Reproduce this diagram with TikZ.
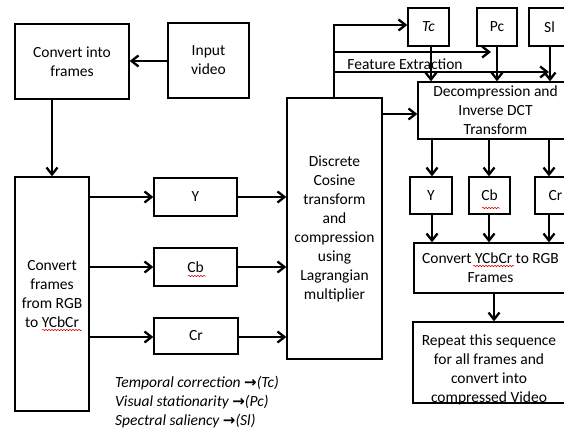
\documentclass[tikz,border=0pt]{standalone}
\usepackage{fontspec}
\setmainfont{Carlito}
\newfontfamily\symfont{DejaVu Sans}
\usetikzlibrary{arrows.meta,decorations.pathmorphing}
\newcommand{\legarrow}{{\upshape\symfont\bfseries\fontsize{15}{19}\selectfont →}}
\begin{document}
\begin{tikzpicture}[x=1pt,y=-1pt,
  box/.style={draw, line width=1.3pt, align=center, inner sep=0pt, font=\fontsize{15.5}{19}\selectfont},
  arr/.style={line width=2.3pt, -{Straight Barb[length=7pt,width=11pt,line width=2.3pt]}},
  wavy/.style={red!80!black, line width=0.5pt, decorate, decoration={snake, amplitude=0.7pt, segment length=3pt}},
  txt/.style={font=\fontsize{15.5}{19}\selectfont, inner sep=0pt}]
\useasboundingbox (0,0) rectangle (564,429);
\clip (0,0) rectangle (564,429);
% left column
\node[box, minimum width=114pt, minimum height=75pt] (frames) at (72,61.5) {Convert into\\frames};
\node[box, minimum width=81pt, minimum height=75pt] (input) at (208.5,60.5) {Input\\video};
\node[box, minimum width=74pt, minimum height=234pt] (rgb) at (52,294) {Convert\\frames\\from RGB\\to YCbCr};
\node[box, minimum width=83pt, minimum height=38pt] (y1) at (195.5,197) {Y};
\node[box, minimum width=83pt, minimum height=38pt] (cb1) at (195.5,267) {Cb};
\node[box, minimum width=84pt, minimum height=36pt] (cr1) at (196,336) {Cr};
\node[box, minimum width=95pt, minimum height=261pt] (dct) at (334.5,228.5) {Discrete\\Cosine\\transform\\and\\compression\\using\\Lagrangian\\multiplier};
% right column
\node[box, minimum width=41pt, minimum height=38pt] (tc) at (428.5,27) {\itshape Tc};
\node[box, minimum width=40pt, minimum height=38pt] (pc) at (497,27) {Pc};
\node[box, minimum width=41pt, minimum height=38pt] (sl) at (549.5,27) {Sl};
\node[box, minimum width=155pt, minimum height=57pt] (dec) at (495.5,110.5) {Decompression and\\Inverse DCT\\Transform};
\node[box, minimum width=42pt, minimum height=37pt] (y2) at (431,195.5) {Y};
\node[box, minimum width=41pt, minimum height=37pt] (cb2) at (489.5,195.5) {Cb};
\node[box, minimum width=41pt, minimum height=37pt] (cr2) at (555.5,195.5) {Cr};
\node[box, minimum width=153pt, minimum height=50pt] (conv) at (490.5,268) {Convert YCbCr to RGB\\Frames};
\node[box, minimum width=152pt, minimum height=81pt] (rep) at (489,362.5) {};
\node[txt, align=center] (reptext) at (489,370) {Repeat this sequence\\for all frames and\\convert into\\compressed Video};
\node[txt] (fe) at (405,64) {Feature Extraction};
\node[txt, align=left, anchor=west, font=\fontsize{15.5}{19}\selectfont\itshape] (legend) at (115,402)
  {Temporal correction \legarrow(Tc)\\
   Visual stationarity \legarrow(Pc)\\
   Spectral saliency \legarrow(Sl)};
% connectors
\draw[arr] (input.west |- 0,61) -- (frames.east |- 0,61);
\draw[arr] (frames.south -| 52,0) -- (rgb.north -| 52,0);
\draw[arr] (rgb.east |- 0,197) -- (y1.west |- 0,197);
\draw[arr] (rgb.east |- 0,267) -- (cb1.west |- 0,267);
\draw[arr] (rgb.east |- 0,337) -- (cr1.west |- 0,337);
\draw[arr] (y1.east |- 0,197) -- (dct.west |- 0,197);
\draw[arr] (cb1.east |- 0,267) -- (dct.west |- 0,267);
\draw[arr] (cr1.east |- 0,337) -- (dct.west |- 0,337);
\coordinate (up) at (334,25);
\draw[arr] (dct.north -| up) -- (up) -- (tc.west |- up);
\coordinate (f1) at (334,52);
\coordinate (f1e) at (491,52);
\draw[arr] (f1) -- (f1e);
\coordinate (f2) at (334,72);
\coordinate (f2e) at (549,72);
\draw[arr] (f2) -- (f2e);
\draw[arr] (dct.east |- 0,114) -- (dec.west |- 0,114);
\draw[arr] (tc.south -| 431,0) -- (dec.north -| 431,0);
\draw[arr] (pc.south -| 497,0) -- (dec.north -| 497,0);
\draw[arr] (sl.south -| 550,0) -- (dec.north -| 550,0);
\draw[arr] (dec.south -| 432,0) -- (y2.north -| 432,0);
\draw[arr] (dec.south -| 489,0) -- (cb2.north -| 489,0);
\draw[arr] (dec.south -| 549,0) -- (cr2.north -| 549,0);
\draw[arr] (y2.south -| 432,0) -- (conv.north -| 432,0);
\draw[arr] (cb2.south -| 489,0) -- (conv.north -| 489,0);
\draw[arr] (cr2.south -| 549,0) -- (conv.north -| 549,0);
\draw[arr] (conv.south -| 494,0) -- (rep.north -| 494,0);
% spell-check underlines
\draw[wavy] (188,276) -- (206,276);
\draw[wavy] (482,208) -- (500,208);
\draw[wavy] (473,266) -- (514,266);
\draw[wavy] (42,330) -- (82,330);
\end{tikzpicture}
\end{document}
